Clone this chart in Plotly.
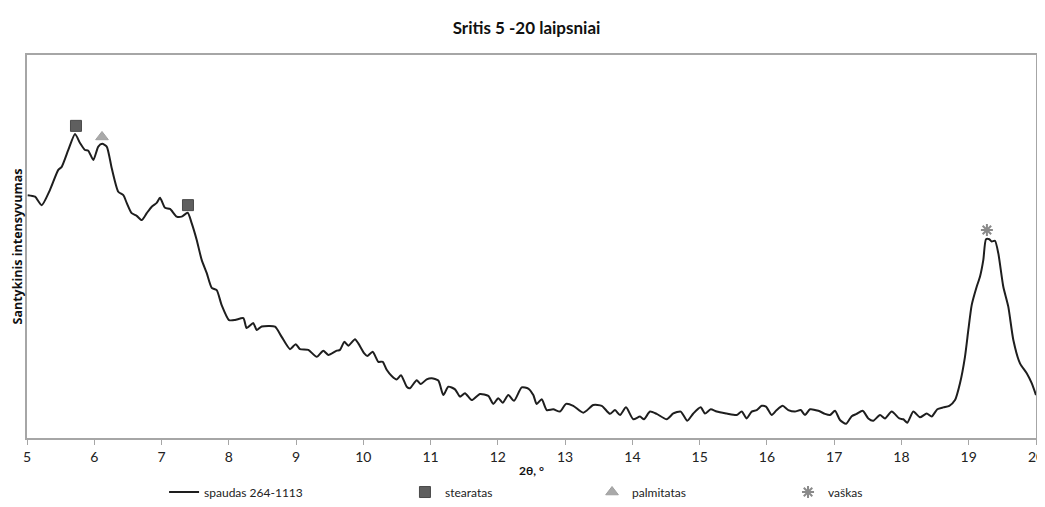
import plotly.graph_objects as go

# ---- data ----
two_theta = [5.010, 5.119, 5.219, 5.342, 5.465, 5.516, 5.614, 5.714, 5.788, 5.862,
             5.911, 5.986, 6.060, 6.119, 6.185, 6.259, 6.357, 6.432, 6.482, 6.556,
             6.631, 6.705, 6.780, 6.854, 6.928, 6.977, 7.052, 7.126, 7.225, 7.300,
             7.389, 7.448, 7.523, 7.597, 7.671, 7.746, 7.820, 7.894, 8.003, 8.092,
             8.216, 8.266, 8.364, 8.415, 8.489, 8.687, 8.786, 8.910, 8.995, 9.058,
             9.182, 9.307, 9.405, 9.479, 9.604, 9.653, 9.717, 9.777, 9.876, 9.925,
             10.014, 10.059, 10.139, 10.222, 10.288, 10.347, 10.422, 10.496, 10.560, 10.645,
             10.694, 10.793, 10.853, 10.942, 11.016, 11.115, 11.189, 11.263, 11.363, 11.437,
             11.511, 11.611, 11.734, 11.858, 11.932, 12.006, 12.072, 12.155, 12.240, 12.354,
             12.452, 12.527, 12.577, 12.652, 12.726, 12.824, 12.924, 13.013, 13.121, 13.270,
             13.419, 13.544, 13.667, 13.741, 13.816, 13.905, 14.013, 14.113, 14.172, 14.262,
             14.361, 14.510, 14.608, 14.718, 14.816, 14.905, 15.015, 15.079, 15.164, 15.253,
             15.402, 15.550, 15.625, 15.699, 15.773, 15.848, 15.922, 15.986, 16.071, 16.145,
             16.234, 16.318, 16.417, 16.502, 16.566, 16.640, 16.764, 16.863, 16.937, 17.012,
             17.086, 17.175, 17.260, 17.334, 17.424, 17.507, 17.581, 17.681, 17.755, 17.855,
             17.968, 18.027, 18.087, 18.176, 18.275, 18.375, 18.449, 18.533, 18.622, 18.711,
             18.796, 18.870, 18.944, 18.994, 19.044, 19.118, 19.167, 19.217, 19.257, 19.306,
             19.342, 19.390, 19.440, 19.514, 19.588, 19.663, 19.762, 19.862, 19.936, 20.000]

intensity = [63.4, 63.0, 60.8, 64.8, 70.0, 70.8, 75.2, 79.4, 77.0, 75.2,
             75.0, 72.6, 76.1, 76.8, 76.1, 70.5, 64.3, 63.4, 61.4, 58.7,
             58.0, 56.9, 58.7, 60.4, 61.4, 62.7, 60.1, 59.8, 57.8, 57.8,
             58.8, 56.1, 51.7, 46.5, 43.1, 39.2, 38.6, 34.7, 30.8, 30.8,
             31.3, 28.7, 30.0, 28.2, 29.1, 29.1, 26.4, 23.2, 24.5, 23.2,
             23.0, 21.2, 22.8, 21.7, 22.8, 23.0, 25.1, 24.1, 25.8, 24.7,
             22.1, 21.4, 22.5, 19.9, 19.9, 17.8, 16.2, 15.3, 16.4, 13.4,
             13.0, 15.1, 14.1, 15.3, 15.6, 15.0, 11.2, 13.4, 12.7, 10.8,
             11.7, 9.9, 11.5, 11.0, 8.9, 10.4, 9.2, 11.2, 9.7, 13.2,
             12.9, 11.2, 8.9, 10.1, 7.3, 7.5, 6.9, 8.9, 8.4, 6.6,
             8.6, 8.4, 6.3, 7.3, 6.0, 8.0, 4.9, 5.6, 4.9, 6.9,
             6.3, 4.9, 6.4, 6.9, 4.5, 6.4, 8.0, 6.4, 7.5, 6.9,
             6.4, 6.0, 6.9, 5.1, 6.9, 7.3, 8.4, 8.2, 6.0, 7.3,
             8.4, 7.3, 6.9, 7.3, 6.0, 7.5, 7.1, 6.3, 6.0, 7.1,
             4.7, 3.7, 5.7, 6.3, 7.1, 5.1, 4.5, 6.0, 5.1, 6.9,
             5.1, 4.9, 4.0, 6.9, 5.4, 6.4, 5.6, 7.5, 8.0, 8.4,
             9.9, 14.3, 21.2, 28.2, 34.7, 39.5, 42.1, 46.5, 51.9, 51.9,
             51.3, 51.5, 48.2, 39.5, 34.3, 25.6, 19.5, 16.9, 14.3, 11.2]

stearatas_x = [5.728, 7.393]
stearatas_y = [81.5, 60.8]
palmitatas_x = [6.115]
palmitatas_y = [78.6]
vaskas_x = [19.27]
vaskas_y = [54.3]

x_ticks = list(range(5, 21))

FONT = "Lato, 'Liberation Sans', sans-serif"
BOLD_FONT = "'Open Sans', Lato, sans-serif"

fig = go.Figure()
fig.add_trace(go.Scatter(
    x=two_theta, y=intensity, mode="lines", name="spaudas 264-1113",
    line=dict(color="#1e1e1e", width=2, shape="spline", smoothing=0.6),
    legend="legend"))
fig.add_trace(go.Scatter(
    x=stearatas_x, y=stearatas_y, mode="markers", name="stearatas",
    marker=dict(symbol="square", size=11, color="#5f5f5f",
                line=dict(color="#4a4a4a", width=1)),
    legend="legend2"))
fig.add_trace(go.Scatter(
    x=palmitatas_x, y=palmitatas_y, mode="markers", name="palmitatas",
    marker=dict(symbol="triangle-up", size=11, color="#a9a9a9",
                line=dict(color="#a0a0a0", width=1)),
    legend="legend3"))
fig.add_trace(go.Scatter(
    x=vaskas_x, y=vaskas_y, mode="markers", name="vaškas",
    marker=dict(symbol="asterisk-open", size=10, color="#8a8a8a",
                line=dict(color="#8a8a8a", width=2)),
    legend="legend4"))

leg_common = dict(orientation="h", xref="container", yref="container",
                  yanchor="middle", y=0.030, xanchor="left",
                  font=dict(family=FONT, size=12, color="#222222"),
                  bgcolor="rgba(0,0,0,0)", borderwidth=0)

# the page body adds an 8 px offset, so the figure is 8 px smaller each way
fig.update_layout(
    width=1037, height=499,
    margin=dict(l=19, r=9, t=47, b=69, autoexpand=False),
    paper_bgcolor="white", plot_bgcolor="white",
    title=dict(text="<b>Sritis 5 -20 laipsniai</b>", x=0.5, xanchor="center",
               xref="container", yref="container",
               y=0.96, yanchor="middle", automargin=False,
               font=dict(family=FONT, size=17, color="#111111")),
    xaxis=dict(range=[5, 20], tickmode="array", tickvals=x_ticks,
               ticktext=[str(t) for t in x_ticks], automargin=False,
               ticks="outside", ticklen=5, tickcolor="#a6a6a6",
               showline=True, linecolor="#a6a6a6", linewidth=1.5, mirror=True,
               showgrid=False, zeroline=False,
               tickfont=dict(family=FONT, size=14, color="#222222"),
               title=dict(text="<b>2θ, °</b>", standoff=7,
                          font=dict(family=FONT, size=12, color="#111111"))),
    yaxis=dict(range=[0, 100], showticklabels=False, ticks="", automargin=False,
               showline=True, linecolor="#a6a6a6", linewidth=1.5, mirror=True,
               showgrid=False, zeroline=False),
    annotations=[dict(text="<b>Santykinis intensyvumas</b>", textangle=-90,
                      xref="paper", yref="paper", x=0, y=0.5,
                      xanchor="center", yanchor="middle", xshift=-10,
                      showarrow=False,
                      font=dict(family=BOLD_FONT, size=12.5, color="#111111"))],
    legend=dict(x=0.1505, **leg_common),
    legend2=dict(x=0.3828, **leg_common),
    legend3=dict(x=0.5632, **leg_common),
    legend4=dict(x=0.7522, **leg_common),
    showlegend=True,
)

fig.write_html("out.html")
